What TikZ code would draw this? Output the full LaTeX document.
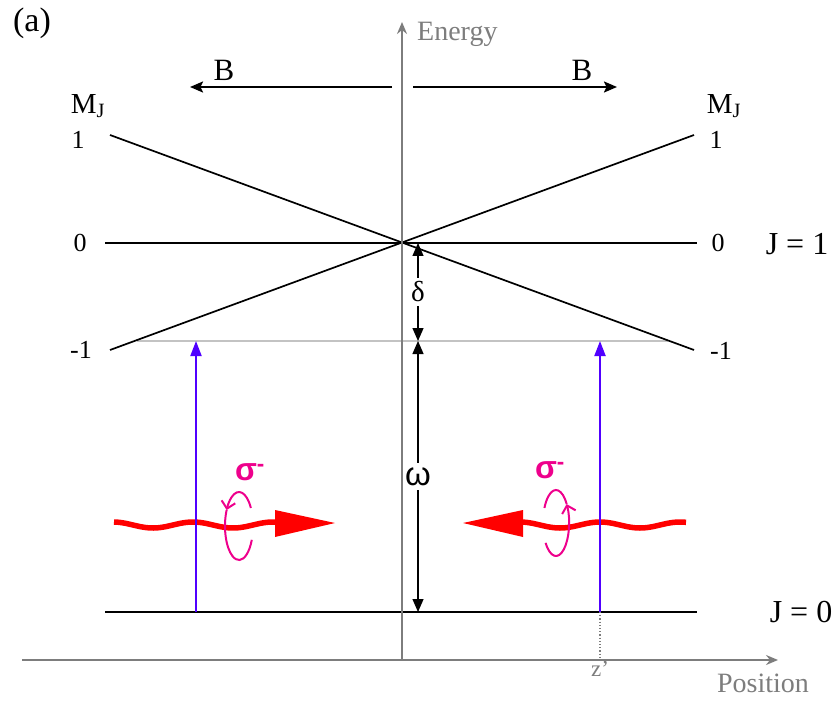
\documentclass[tikz,border=0pt]{standalone}
\usepackage{fontspec}
\setmainfont{Liberation Serif}
\newfontfamily\sansfam{Liberation Sans}
\usetikzlibrary{arrows.meta}
\definecolor{axisgray}{RGB}{125,125,125}
\definecolor{lightline}{RGB}{195,195,195}
\definecolor{laserblue}{RGB}{80,0,255}
\definecolor{polmag}{RGB}{238,0,140}
\begin{document}
\begin{tikzpicture}[x=1pt,y=-1pt,
  lbl/.style={inner sep=0pt,font=\fontsize{26}{28}\selectfont},
  jlbl/.style={inner sep=0pt,font=\fontsize{32}{34}\selectfont},
  axislbl/.style={inner sep=0pt,text=axisgray,font=\fontsize{28}{30}\selectfont},
  level/.style={black,line width=2pt},
  axisline/.style={axisgray,line width=2pt,-{Stealth[length=12pt,width=10pt,inset=4pt]}},
  barrow/.style={black,line width=2pt,-{Stealth[length=13pt,width=11pt,inset=2.5pt]}},
  gap/.style={black,line width=1.3pt,{Triangle[length=13pt,width=11pt]}-{Triangle[length=13pt,width=11pt]}},
  pump/.style={laserblue,line width=2pt,-{Triangle[length=15pt,width=11pt]}},
  wave/.style={red,line width=5.5pt},
  pol/.style={polmag,line width=2pt},
  sig/.style={inner sep=0pt,text=polmag,font=\sansfam\bfseries\fontsize{32}{34}\selectfont},
  gaplbl/.style={fill=white,inner xsep=0pt,inner ysep=4pt}
]
\useasboundingbox (0,0) rectangle (840,711);

% named points
\coordinate (eBot) at (402,660);
\coordinate (eTop) at (402,22);
\coordinate (pL) at (22,660);
\coordinate (pR) at (778,660);
\coordinate (cross) at (402,243);
\coordinate (gL) at (105,612);
\coordinate (gR) at (697,612);
\coordinate (zL) at (105,243);
\coordinate (zR) at (697,243);
\coordinate (uL) at (110,135);
\coordinate (uR) at (694,135);
\coordinate (dL) at (110,350);
\coordinate (dR) at (694,350);
\coordinate (rL) at (137,341);
\coordinate (rR) at (668,341);
\coordinate (bLs) at (392,87);
\coordinate (bLe) at (190,87);
\coordinate (bRs) at (413,87);
\coordinate (bRe) at (617,87);
\coordinate (pumpLb) at (196,612);
\coordinate (pumpLt) at (196,341);
\coordinate (pumpRb) at (600,612);
\coordinate (pumpRt) at (600,341);
\coordinate (zpTop) at (600,612);
\coordinate (zpBot) at (600,660);
\coordinate (dTop) at (418,243);
\coordinate (dBot) at (418,341);
\coordinate (wBot) at (418,612);

% levels
\draw[lightline,line width=1.5pt] (rL) -- (rR);
\draw[level] (gL) -- (gR);
\draw[level] (zL) -- (zR);
\draw[level,line width=1.7pt] (uL) -- (dR);
\draw[level,line width=1.7pt] (dL) -- (uR);

% B arrows
\draw[barrow] (bLs) -- (bLe);
\draw[barrow] (bRs) -- (bRe);

% delta and omega
\draw[gap] (dTop) -- node[lbl,gaplbl,font=\fontsize{29}{30}\selectfont] (delta) {δ} (dBot);
\draw[gap] (dBot) -- node[gaplbl,font=\sansfam\fontsize{33}{34}\selectfont] (omega) {ω} (wBot);

% axes
\draw[axisline] (eBot) -- (eTop);
\draw[axisline] (pL) -- (pR);
\draw[axisgray,line width=1.2pt,dotted] (zpTop) -- (zpBot);

% red waves
\draw[wave] plot[domain=114:278,samples=80] (\x,{525-3*cos(4.5*(\x-193))});
\fill[red] (275,510) -- (335,523) -- (275,537) -- cycle;
\draw[wave] plot[domain=520:686,samples=80] (\x,{525-3*cos(4.5*(\x-600))});
\fill[red] (523,510) -- (463,523) -- (523,537) -- cycle;

% polarisation circles
\draw[pol,-{Straight Barb[length=7pt,width=14pt]}] ([shift={(239,526)}]32:14pt and 34pt) arc[start angle=32,end angle=152,x radius=14pt,y radius=34pt];
\draw[pol] ([shift={(239,526)}]152:14pt and 34pt) arc[start angle=152,end angle=336,x radius=14pt,y radius=34pt];
\draw[pol,-{Straight Barb[length=7pt,width=14pt]}] ([shift={(556,523)}]217:13pt and 33pt) arc[start angle=217,end angle=395,x radius=13pt,y radius=33pt];
\draw[pol] ([shift={(556,523)}]35:13pt and 33pt) arc[start angle=35,end angle=153,x radius=13pt,y radius=33pt];

% pump arrows
\draw[pump] (pumpLb) -- (pumpLt);
\draw[pump] (pumpRb) -- (pumpRt);

% labels
\node[inner sep=0pt,font=\fontsize{34}{36}\selectfont] (a) at (32,23) {(a)};
\node[axislbl,anchor=west] (energy) at (417,34) {Energy};
\node[axislbl] (position) at (763,683) {Position};
\node[axislbl,font=\fontsize{23}{24}\selectfont] (zp) at (600,669) {z’};
\node[lbl,font=\fontsize{31}{32}\selectfont] (BL) at (224,70) {B};
\node[lbl,font=\fontsize{31}{32}\selectfont] (BR) at (582,70) {B};
\node[lbl,font=\fontsize{29}{30}\selectfont] (MJL) at (88,106) {M\textsubscript{J}};
\node[lbl,font=\fontsize{29}{30}\selectfont] (MJR) at (724,106) {M\textsubscript{J}};
\node[lbl] (oneL) at (78,140) {1};
\node[lbl] (oneR) at (716,140) {1};
\node[lbl] (zeroL) at (80,243) {0};
\node[lbl] (zeroR) at (718,243) {0};
\node[lbl] (mL) at (81,350) {-1};
\node[lbl] (mR) at (721,351) {-1};
\node[jlbl] (J1) at (797,244) {J = 1};
\node[jlbl] (J0) at (801,612) {J = 0};
\node[sig] (sigL) at (250,472) {σ\textsuperscript{-}};
\node[sig] (sigR) at (550,470) {σ\textsuperscript{-}};
\end{tikzpicture}
\end{document}
